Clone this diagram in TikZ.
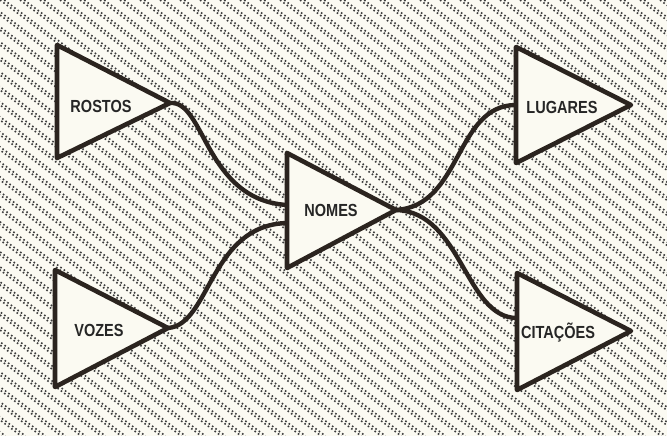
\documentclass[tikz,border=0pt]{standalone}
\usepackage{fontspec}
\newfontfamily\lab{Liberation Sans}[FakeStretch=0.83]
\definecolor{paper}{HTML}{FBFAF2}
\definecolor{ink}{HTML}{2B241F}
\definecolor{dotc}{HTML}{3A3A3A}
\tikzset{
  dotline/.style={line width=1.6pt, dash pattern=on 1.6pt off 2.6pt, color=dotc},
  tri/.style={draw=ink, fill=paper, line width=4.6pt, line join=round},
  conn/.style={draw=ink, line width=4.4pt, line cap=round},
  lab/.style={inner sep=0pt, text=black!85, font=\lab\bfseries\fontsize{17.5}{17.5}\selectfont}
}
\begin{document}
\begin{tikzpicture}[x=1pt,y=-1pt]
\useasboundingbox (0,0) rectangle (667,436);
\fill[paper] (0,0) rectangle (667,436);
\begin{scope}
  \clip (0,0) rectangle (667,436);
  \foreach \x in {-600,-580,...,680} {
    \draw[dotline] (\x,0) -- ++(581.3,436);
    \draw[dotline] (\x+4.2,0) -- ++(581.3,436);
  }
\end{scope}
% anchor coordinates
\coordinate (rostos-apex) at (170,103);
\coordinate (vozes-apex) at (168,328);
\coordinate (nomes-apex) at (396,210);
\coordinate (lugares-apex) at (631,105);
\coordinate (citacoes-apex) at (631,331);
\coordinate (nomes-in1) at (287,205);
\coordinate (nomes-in2) at (287,223);
\coordinate (lugares-in) at (516,105);
\coordinate (citacoes-in) at (517,318);
% connectors
\draw[conn] (rostos-apex) .. controls (205,100) and (205,200) .. (nomes-in1);
\draw[conn] (vozes-apex) .. controls (210,325) and (210,225) .. (nomes-in2);
\draw[conn] (nomes-apex) .. controls (462,206) and (455,105) .. (lugares-in);
\draw[conn] (nomes-apex) .. controls (462,212) and (465,318) .. (citacoes-in);
% triangles
\draw[tri] (57,45) -- (rostos-apex) -- (57,158) -- cycle;
\draw[tri] (55,270) -- (vozes-apex) -- (55,387) -- cycle;
\draw[tri] (287,153) -- (nomes-apex) -- (287,268) -- cycle;
\draw[tri] (516,47) -- (lugares-apex) -- (516,163) -- cycle;
\draw[tri] (517,273) -- (citacoes-apex) -- (517,390) -- cycle;
% labels
\node[lab] (rostos) at (101,106) {ROSTOS};
\node[lab] (vozes) at (99,330) {VOZES};
\node[lab] (nomes) at (331,210) {NOMES};
\node[lab] (lugares) at (562,107) {LUGARES};
\node[lab] (citacoes) at (558,333) {CITAÇÕES};
\end{tikzpicture}
\end{document}
